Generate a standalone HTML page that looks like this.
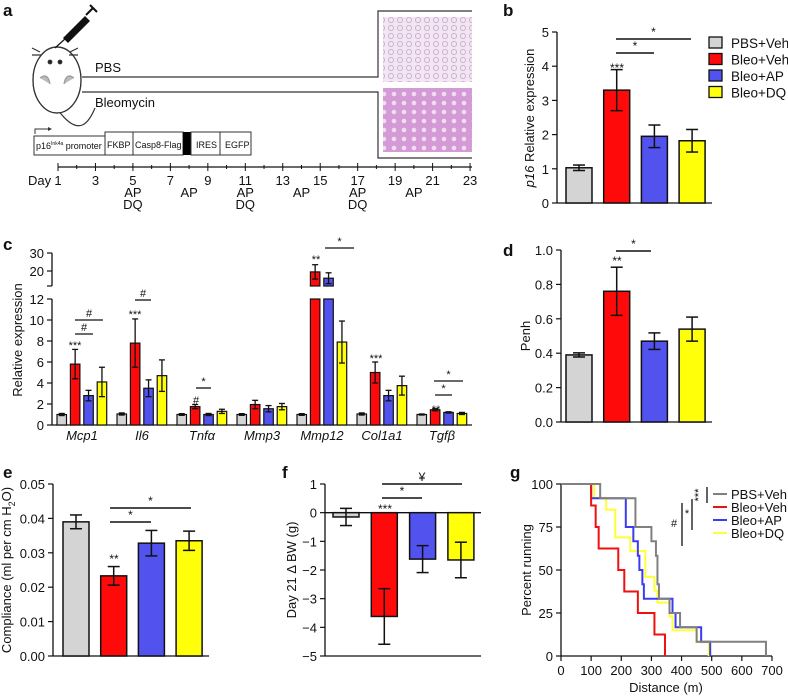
<!DOCTYPE html>
<html><head><meta charset="utf-8">
<style>
html,body{margin:0;padding:0;background:#fff;}
svg{display:block;font-family:"Liberation Sans",Arial,sans-serif;}
text{fill:#111;}
</style></head>
<body>
<svg id="fig" width="788" height="697" viewBox="0 0 788 697" xmlns="http://www.w3.org/2000/svg">
<defs>
<pattern id="tis1" width="9" height="8" patternUnits="userSpaceOnUse"><rect width="9" height="8" fill="#f1e6f2"/><circle cx="4" cy="4" r="2.6" fill="none" stroke="#caa6cf" stroke-width="0.8"/></pattern>
<pattern id="tis2" width="10" height="9" patternUnits="userSpaceOnUse"><rect width="10" height="9" fill="#d49ad6"/><circle cx="4" cy="4" r="2.3" fill="#f2dcf2"/></pattern>
</defs>
<!-- Panel a -->
<g>
<text x="3" y="16" font-size="17" font-weight="bold">a</text>
<g stroke="#333" stroke-width="1.2" fill="#fff">
<path d="M58 110 C80 140 90 120 95 108" fill="none"/>
<ellipse cx="57" cy="80" rx="24" ry="33"/>
<ellipse cx="57" cy="80" rx="24" ry="33" fill="none"/>
<path d="M40 78 q8 -6 10 6 M64 84 q2 -12 10 -6" fill="#bbb" stroke="#999"/>
<circle cx="50" cy="62" r="1.8" fill="#222"/><circle cx="60" cy="62" r="1.8" fill="#222"/>
<path d="M40 52 l-8 -4 M41 55 l-9 0 M70 52 l8 -4 M69 55 l9 0" fill="none"/>
</g>
<g>
<line x1="55" y1="48" x2="66" y2="38" stroke="#111" stroke-width="1.2"/>
<polygon points="63,38 85,16 90,21 68,43" fill="#111"/>
<line x1="86" y1="15" x2="93" y2="8" stroke="#111" stroke-width="2"/>
<line x1="90" y1="5" x2="97" y2="12" stroke="#111" stroke-width="2"/>
</g>
<text x="95" y="72" font-size="13">PBS</text>
<text x="95" y="107" font-size="13">Bleomycin</text>
<polyline points="82,77 378,77 378,11 472,11" fill="none" stroke="#333" stroke-width="1.2"/>
<polyline points="82,92 378,92 378,158 472,158" fill="none" stroke="#333" stroke-width="1.2"/>
<rect x="383" y="17" width="89" height="65" fill="url(#tis1)"/>
<rect x="383" y="88" width="89" height="64" fill="url(#tis2)"/>
<g font-size="9" stroke-width="1">
<polyline points="35,134 35,129 48,129" fill="none" stroke="#333"/>
<polygon points="48,127 52,129 48,131" fill="#333"/>
<rect x="34" y="136" width="71" height="19" fill="#fff" stroke="#333"/>
<text x="36" y="149">p16<tspan font-size="5" dy="-4">Ink4a</tspan><tspan dy="4"> promoter</tspan></text>
<rect x="105" y="132" width="28" height="23" fill="#fff" stroke="#333"/><text x="107" y="148">FKBP</text>
<rect x="133" y="132" width="50" height="23" fill="#fff" stroke="#333"/><text x="135" y="148">Casp8-Flag</text>
<rect x="183" y="132" width="8" height="23" fill="#000"/>
<rect x="191" y="132" width="29" height="23" fill="#fff" stroke="#333"/><text x="196" y="148">IRES</text>
<rect x="220" y="132" width="31" height="23" fill="#fff" stroke="#333"/><text x="225" y="148">EGFP</text>
</g>
<g id="timeline"></g>
</g>
<g id="panelB"></g>
<g id="panelC"></g>
<g id="panelD"></g>
<g id="panelE"></g>
<g id="panelF"></g>
<g id="panelG"></g>
</svg>
<script>
const groups = ['PBS+Veh','Bleo+Veh','Bleo+AP','Bleo+DQ'];
const p16Vals = [1.03, 3.3, 1.95, 1.82];
const p16Errs = [0.08, 0.6, 0.33, 0.33];
const penhVals = [0.39, 0.76, 0.47, 0.54];
const penhErrs = [0.012, 0.14, 0.048, 0.07];
const complVals = [0.039, 0.0233, 0.0328, 0.0335];
const complErrs = [0.002, 0.0027, 0.0037, 0.0028];
const bwVals = [-0.15, -3.62, -1.62, -1.65];
const bwErrs = [0.3, 0.97, 0.47, 0.62];
const genes = ['Mcp1','Il6','Tnfα','Mmp3','Mmp12','Col1a1','Tgfβ'];
const relPBS = [1.0, 1.05, 1.0, 1.0, 1.0, 1.05, 1.0];
const relBleo = [5.8, 7.8, 1.75, 1.95, 19.5, 5.0, 1.45];
const relAP = [2.8, 3.5, 1.0, 1.55, 16, 2.8, 1.2];
const relDQ = [4.1, 4.7, 1.3, 1.75, 7.9, 3.75, 1.1];
const errPBS = [0.1, 0.1, 0.08, 0.08, 0.08, 0.1, 0.05];
const errBleo = [1.4, 2.3, 0.2, 0.4, 4.0, 1.0, 0.1];
const errAP = [0.5, 0.8, 0.1, 0.3, 3.0, 0.5, 0.06];
const errDQ = [1.4, 1.5, 0.2, 0.3, 2.0, 0.9, 0.1];
const days = [1,3,5,7,9,11,13,15,17,19,21,23];
const treatDays = [5,8,11,14,17,20];
const treatLabels = ['AP\nDQ','AP','AP\nDQ','AP','AP\nDQ','AP'];
const pbsDist = [0,130,247,300,315,320,325,360,395,450,680];
const pbsPct = [100,91.7,75,66.7,58.3,41.7,33.3,25,16.7,8.3,0];
const bleoDist = [0,100,115,125,190,210,255,310,345];
const bleoPct = [100,87.5,75,62.5,50,37.5,25,12.5,0];
const apDist = [0,100,215,240,255,260,270,275,370,380,465,495];
const apPct = [100,91.7,75,66.7,58.3,50,41.7,33.3,25,16.7,8.3,0];
const dqDist = [0,110,150,180,230,280,310,320,360,370,450,490];
const dqPct = [100,92,85,69,61,46,38,31,23,15,8,0];

const colors = ['#d4d4d4','#ff0a0a','#5252ee','#ffff0a'];
const lineColors = ['#808080','#f01010','#3c3cf0','#ffff33'];
const NS = 'http://www.w3.org/2000/svg';
function mk(parent, tag, attrs, name){
  const el = document.createElementNS(NS, tag);
  for (const k in attrs) el.setAttribute(k, attrs[k]);
  
  
  parent.appendChild(el);
  return el;
}
function txt(parent, x, y, s, size, name, anchor, extra){
  const a = Object.assign({x:x, y:y, 'font-size':size, 'text-anchor':anchor||'start'}, extra||{});
  const t = mk(parent, 'text', a, name);
  t.textContent = s;
  return t;
}
function line(parent, x1,y1,x2,y2,name,w){
  return mk(parent,'line',{x1:x1,y1:y1,x2:x2,y2:y2,stroke:'#111','stroke-width':w||1.3},name);
}

// timeline
(function(){
  const g = document.getElementById('timeline');
  const dx = d => 58 + (d-1)*18.73;
  line(g, 58,167,472,167,'timeline-line',1.3);
  for(let d=1; d<=23; d++){
    const major = d%2===1;
    line(g, dx(d), major?163:165, dx(d), major?171:169, 'timeline-tick',1);
  }
  txt(g, 28, 185, 'Day', 13, 'day-label');
  days.forEach(d => txt(g, dx(d), 185, String(d), 13, 'day-tick-label', 'middle'));
  treatDays.forEach((d,i) => {
    const parts = treatLabels[i].split('\n');
    parts.forEach((p,j) => txt(g, dx(d), 197 + j*12, p, 13, 'treatment-label', 'middle'));
  });
})();

function barChart(gid, cfg, vals, errs){
  const g = document.getElementById(gid);
  const y = v => cfg.py0 - (v - cfg.vmin) * (cfg.py0 - cfg.py1) / (cfg.vmax - cfg.vmin);
  txt(g, cfg.lx, cfg.ly, cfg.label, 17, 'panel-label', 'start', {'font-weight':'bold'});
  line(g, cfg.ax, cfg.py1, cfg.ax, cfg.py0, 'y-axis-line');
  line(g, cfg.ax, cfg.py0, cfg.xEnd, cfg.py0, 'x-axis-line');
  if (cfg.zeroLine) line(g, cfg.ax, y(0), cfg.xEnd, y(0), 'zero-line');
  cfg.ticks.forEach(t => {
    line(g, cfg.ax-5, y(t), cfg.ax, y(t), 'y-tick', 1.2);
    txt(g, cfg.ax-8, y(t)+5, cfg.fmt(t), 13, 'y-tick-label', 'end');
  });
  const tt = txt(g, 0, 0, '', 13, 'y-axis-title', 'middle', {transform:'translate('+cfg.tx+','+cfg.ty+') rotate(-90)'});
  tt.innerHTML = cfg.title;
  vals.forEach((v,i) => {
    const x = cfg.bx0 + i*cfg.bstep;
    const base = cfg.base;
    const top = Math.min(y(v), y(base)), bot = Math.max(y(v), y(base));
    mk(g,'rect',{x:x,y:top,width:cfg.bw,height:bot-top,fill:colors[i],stroke:'#111','stroke-width':1.5},'bar-'+groups[i].toLowerCase().replace('+','-'));
    const cx = x + cfg.bw/2;
    line(g, cx, y(v+errs[i]), cx, y(v-errs[i]), 'error-bar', 1.5);
    line(g, cx-6, y(v+errs[i]), cx+6, y(v+errs[i]), 'error-cap', 1.5);
    line(g, cx-6, y(v-errs[i]), cx+6, y(v-errs[i]), 'error-cap', 1.5);
  });
  (cfg.sig||[]).forEach(s => {
    if (s.x2) { line(g, s.x1, s.y, s.x2, s.y, 'significance-bar', 1.5); txt(g, (s.x1+s.x2)/2, s.y-3, s.t, 12, 'significance-mark', 'middle'); }
    else txt(g, s.x1, s.y, s.t, 12, 'significance-mark', 'middle');
  });
  return y;
}

barChart('panelB', {lx:503, ly:16, label:'b', ax:557, py0:203, py1:32, vmin:0, vmax:5, xEnd:712, base:0,
  ticks:[0,1,2,3,4,5], fmt:t=>String(t), bx0:566, bstep:37.7, bw:26, tx:534, ty:118,
  title:'<tspan font-style="italic">p16</tspan> Relative expression',
  sig:[{x1:616,x2:691,y:39,t:'*'},{x1:616,x2:654,y:53,t:'*'},{x1:617,y:72,t:'***'}]}, p16Vals, p16Errs);

// legend b
(function(){
  const g = document.getElementById('panelB');
  groups.forEach((n,i) => {
    const yy = 43 + i*16.5;
    mk(g,'rect',{x:709,y:yy-6,width:13,height:11,fill:colors[i],stroke:'#111','stroke-width':1.3},'legend-swatch');
    txt(g, 731, yy+5, n, 13.5, 'legend-entry');
  });
})();

barChart('panelD', {lx:503, ly:256, label:'d', ax:561, py0:422, py1:250, vmin:0, vmax:1, xEnd:712, base:0,
  ticks:[0,0.2,0.4,0.6,0.8,1.0], fmt:t=>t.toFixed(1), bx0:566, bstep:37.7, bw:26, tx:530, ty:336,
  title:'Penh',
  sig:[{x1:616,x2:651,y:251,t:'*'},{x1:617,y:265,t:'**'}]}, penhVals, penhErrs);

barChart('panelE', {lx:3, ly:478, label:'e', ax:53, py0:656, py1:484, vmin:0, vmax:0.05, xEnd:209, base:0,
  ticks:[0,0.01,0.02,0.03,0.04,0.05], fmt:t=>t.toFixed(2), bx0:63, bstep:37.7, bw:26, tx:11, ty:570,
  title:'Compliance (ml per cm H<tspan font-size="9" dy="4">2</tspan><tspan dy="-4">O)</tspan>',
  sig:[{x1:110,x2:191,y:508,t:'*'},{x1:110,x2:151,y:522,t:'*'},{x1:114,y:563,t:'**'}]}, complVals, complErrs);

barChart('panelF', {lx:282, ly:478, label:'f', ax:325, py0:656, py1:484, vmin:-5, vmax:1, xEnd:481, base:0, zeroLine:true,
  ticks:[-5,-4,-3,-2,-1,0,1], fmt:t=>t<0?'\u2212'+(-t):String(t), bx0:333, bstep:38.3, bw:26, tx:296, ty:570,
  title:'Day 21 \u0394 BW (g)',
  sig:[{x1:382,x2:462,y:484,t:'\u00a5'},{x1:382,x2:422,y:498,t:'*'},{x1:385,y:513,t:'***'}]}, bwVals, bwErrs);

// Panel c
(function(){
  const g = document.getElementById('panelC');
  const yLow = v => 425 - v*10.5;
  const yHigh = v => 271 - (v-20)*1.8;
  const y = v => v <= 12 ? yLow(v) : yHigh(v);
  txt(g, 3, 250, 'c', 17, 'panel-label', 'start', {'font-weight':'bold'});
  line(g, 52, 299, 52, 425, 'y-axis-line');
  line(g, 52, 253, 52, 286, 'y-axis-upper-line');
  line(g, 52, 425, 472, 425, 'x-axis-line');
  [0,2,4,6,8,10,12].forEach(t => { line(g,47,yLow(t),52,yLow(t),'y-tick',1.2); txt(g,44,yLow(t)+5,String(t),13,'y-tick-label','end'); });
  [20,30].forEach(t => { line(g,47,yHigh(t),52,yHigh(t),'y-tick',1.2); txt(g,44,yHigh(t)+5,String(t),13,'y-tick-label','end'); });
  line(g,47,286,52,286,'axis-break-tick',1.2);
  txt(g, 0, 0, 'Relative expression', 13, 'y-axis-title', 'middle', {transform:'translate(22,340) rotate(-90)'});
  const series = [relPBS, relBleo, relAP, relDQ];
  const errs = [errPBS, errBleo, errAP, errDQ];
  genes.forEach((gn, gi) => {
    const gx = 57 + gi*60;
    series.forEach((s, si) => {
      const v = s[gi], e = errs[si][gi];
      const x = gx + si*13.4, w = 9.5;
      if (v <= 12) {
        mk(g,'rect',{x:x,y:y(v),width:w,height:425-y(v),fill:colors[si],stroke:'#111','stroke-width':1.2},'bar-'+gn+'-'+si);
      } else {
        mk(g,'rect',{x:x,y:yLow(12),width:w,height:425-yLow(12),fill:colors[si],stroke:'#111','stroke-width':1.2},'bar-'+gn+'-'+si+'-lower');
        mk(g,'rect',{x:x,y:y(v),width:w,height:286-y(v),fill:colors[si],stroke:'#111','stroke-width':1.2},'bar-'+gn+'-'+si+'-upper');
      }
      const cx = x + w/2;
      line(g,cx,y(v+e),cx,y(Math.max(v-e,0)),'error-bar',1.3);
      line(g,cx-3,y(v+e),cx+3,y(v+e),'error-cap',1.3);
      line(g,cx-3,y(v-e),cx+3,y(v-e),'error-cap',1.3);
    });
    txt(g, gx+25, 440, gn, 13, 'gene-label', 'middle', {'font-style':'italic'});
  });
  const sig = [
    {x1:75,y:349,t:'***'},{x1:75,x2:93,y:334,t:'#'},{x1:75,x2:103,y:320,t:'#'},
    {x1:135,y:318,t:'***'},{x1:135,x2:151,y:300,t:'#'},
    {x1:196,y:404,t:'#'},{x1:196,x2:211,y:388,t:'*'},
    {x1:316,y:263,t:'**'},{x1:325,x2:354,y:248,t:'*'},
    {x1:376,y:362,t:'***'},
    {x1:436,y:413,t:'**'},{x1:435,x2:452,y:395,t:'*'},{x1:434,x2:463,y:381,t:'*'}
  ];
  sig.forEach(s => {
    if (s.x2) { line(g,s.x1,s.y,s.x2,s.y,'significance-bar',1.3); txt(g,(s.x1+s.x2)/2,s.y-3,s.t,11,'significance-mark','middle'); }
    else txt(g,s.x1,s.y,s.t,11,'significance-mark','middle');
  });
})();

// Panel g
(function(){
  const g = document.getElementById('panelG');
  const x = d => 561 + d*0.3014;
  const y = p => 656 - p*1.72;
  txt(g, 510, 478, 'g', 17, 'panel-label', 'start', {'font-weight':'bold'});
  line(g, 561, 484, 561, 656, 'y-axis-line');
  line(g, 561, 656, 772, 656, 'x-axis-line');
  [0,25,50,75,100].forEach(t => { line(g,556,y(t),561,y(t),'y-tick',1.2); txt(g,553,y(t)+5,String(t),13,'y-tick-label','end'); });
  [0,100,200,300,400,500,600,700].forEach(t => { line(g,x(t),656,x(t),661,'x-tick',1.2); txt(g,x(t),675,String(t),13,'x-tick-label','middle'); });
  txt(g, 666, 692, 'Distance (m)', 13, 'x-axis-title', 'middle');
  txt(g, 0, 0, 'Percent running', 13, 'y-axis-title', 'middle', {transform:'translate(531,570) rotate(-90)'});
  const sets = [[dqDist,dqPct,3],[apDist,apPct,2],[bleoDist,bleoPct,1],[pbsDist,pbsPct,0]];
  sets.forEach(([ds,ps,ci]) => {
    let pts = [];
    for (let i=0;i<ds.length;i++){
      if (i>0) pts.push(x(ds[i])+','+y(ps[i-1]));
      pts.push(x(ds[i])+','+y(ps[i]));
    }
    if (ps[ps.length-1] > 0) pts.push(x(700)+','+y(ps[ps.length-1]));
    mk(g,'polyline',{points:pts.join(' '),fill:'none',stroke:lineColors[ci],'stroke-width':2},'survival-curve-'+groups[ci].toLowerCase().replace('+','-'));
  });
  groups.forEach((n,i) => {
    const yy = 494 + i*13;
    line(g, 713, yy, 727, yy, 'legend-line', 2).setAttribute('stroke', lineColors[i]);
    txt(g, 731, yy+5, n, 13, 'legend-entry');
  });
  line(g,707,487,707,503,'significance-bracket',1.3); txt(g,700,497,'***',11,'significance-mark','middle',{transform:'rotate(-90 700 495)'});
  line(g,692,499,692,530,'significance-bracket',1.3); txt(g,687,517,'*',11,'significance-mark','middle');
  line(g,682,503,682,546,'significance-bracket',1.3); txt(g,674,527,'#',11,'significance-mark','middle');
})();
</script>
</body></html>
